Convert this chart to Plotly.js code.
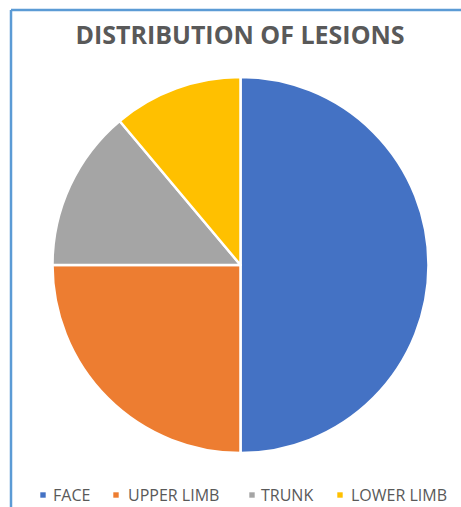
<!DOCTYPE html>
<html>
<head>
<meta charset="utf-8">
<script src="https://cdn.plot.ly/plotly-3.0.1.min.js"></script>
<style>
html,body{margin:0;padding:0;background:#fff;}
#chart{width:461px;height:507px;}
</style>
</head>
<body>
<div id="chart"></div>
<script>
const labels = ["FACE", "UPPER LIMB", "TRUNK", "LOWER LIMB"];
const values = [18, 9, 5, 4];
const colors = ["#4472C4", "#ED7D31", "#A5A5A5", "#FFC000"];

const W = 461, H = 507;
const bx = 11 / W, by = 1 - 10 / H;

// legend layout (pixel positions of each entry's marker and text start)
const legMarkerX = [43, 116, 252, 340];
const legTextX = [52, 127, 260, 350];
const legY = 495;

const data = [{
  type: "pie",
  labels: labels,
  values: values,
  sort: false,
  direction: "clockwise",
  rotation: 0,
  textinfo: "none",
  hoverinfo: "label+value",
  marker: {colors: colors, line: {color: "#ffffff", width: 2.5}},
  domain: {x: [50 / W, 431 / W], y: [1 - 453 / H, 1 - 77 / H]},
  showlegend: false
}];

const shapes = [
  {type: "line", xref: "paper", yref: "paper", x0: bx, x1: bx, y0: 0, y1: by,
   line: {color: "#5B9BD5", width: 2.5}},
  {type: "line", xref: "paper", yref: "paper", x0: bx, x1: 1, y0: by, y1: by,
   line: {color: "#5B9BD5", width: 2.5}}
];
const annotations = [];
labels.forEach((lab, i) => {
  const s = 2.7;
  shapes.push({type: "rect", xref: "paper", yref: "paper",
    x0: (legMarkerX[i] - s) / W, x1: (legMarkerX[i] + s) / W,
    y0: 1 - (legY + s) / H, y1: 1 - (legY - s) / H,
    fillcolor: colors[i], line: {width: 0}});
  annotations.push({text: lab, xref: "paper", yref: "paper",
    x: legTextX[i] / W, y: 1 - legY / H, xanchor: "left", yanchor: "middle",
    showarrow: false, xshift: -1,
    font: {family: "Open Sans, sans-serif", size: 16, color: "#595959"}});
});

const layout = {
  width: W, height: H,
  margin: {l: 0, r: 0, t: 0, b: 0},
  paper_bgcolor: "#ffffff",
  title: {
    text: "<b>DISTRIBUTION OF LESIONS</b>",
    font: {family: "Open Sans, sans-serif", size: 25, color: "#595959"},
    x: 240 / W, xanchor: "center", y: 1 - 35 / H, yanchor: "middle"
  },
  showlegend: false,
  shapes: shapes,
  annotations: annotations
};

Plotly.newPlot("chart", data, layout, {displayModeBar: false, staticPlot: true});
</script>
</body>
</html>
